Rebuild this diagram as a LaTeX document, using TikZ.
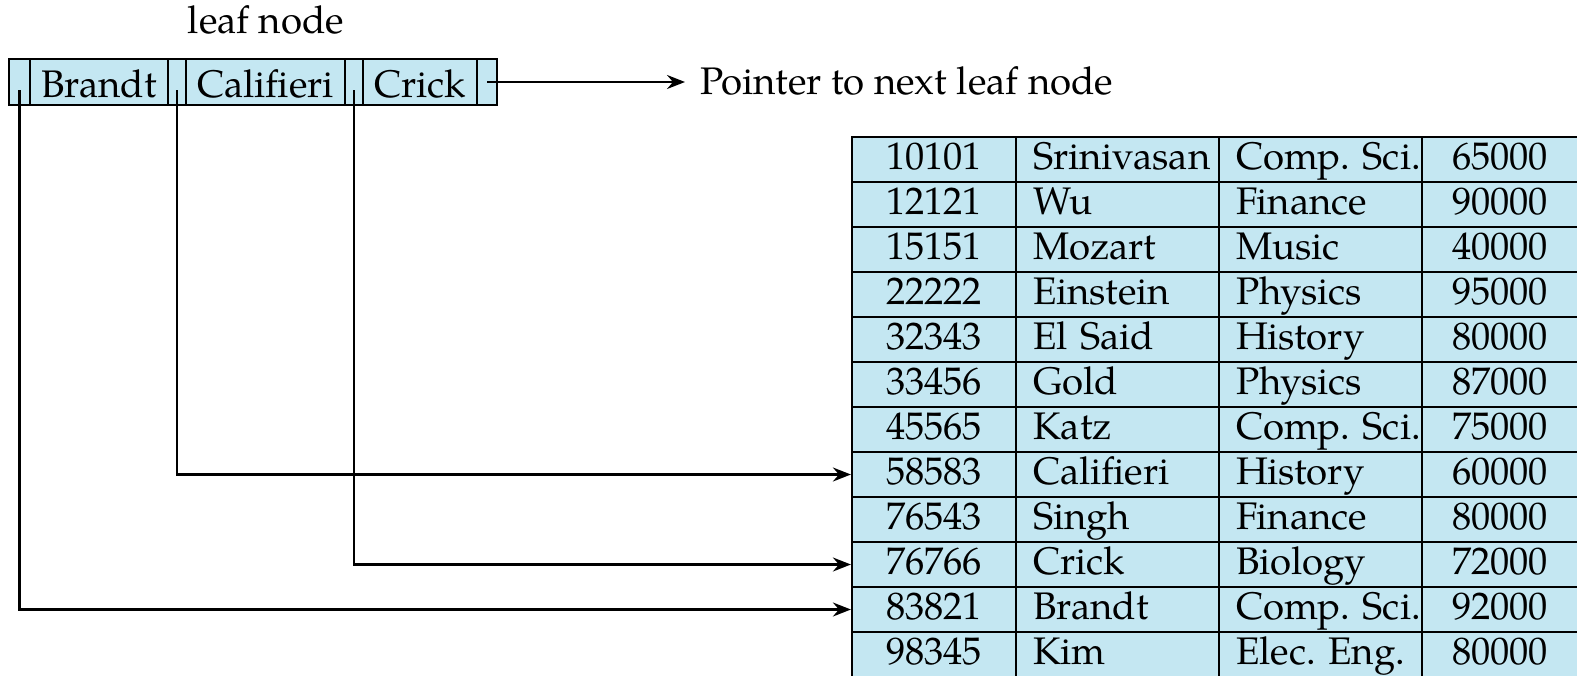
\documentclass[tikz,border=0pt]{standalone}
\usepackage{fontspec}
\setmainfont{TeX Gyre Pagella}
\usetikzlibrary{arrows.meta}
\definecolor{cellblue}{RGB}{196,231,242}
\tikzset{
  txt/.style={font=\fontsize{19.2pt}{23pt}\selectfont\frenchspacing, text depth=0pt},
  leafcell/.style={txt, text height=15pt, draw, line width=1.1pt, fill=cellblue, minimum height=23pt, inner sep=0pt},
  tcell/.style={txt, text height=9.5pt, draw, line width=1.1pt, fill=cellblue, minimum height=22.5pt, inner ysep=0pt},
  ccell/.style={tcell, inner xsep=0pt, text width=#1, align=center},
  lcell/.style={tcell, inner xsep=8.5pt, text width=#1, align=left},
  ptr/.style={line width=1.1pt, -{Stealth[length=9pt,width=7pt,inset=3pt]}},
  lbl/.style={txt, text height=12.5pt, inner sep=0pt}
}
\begin{document}
\begin{tikzpicture}[x=0.5pt,y=-0.5pt]
\useasboundingbox (0,0) rectangle (1577,675);
% leaf node
\node[lbl, anchor=base] (title) at (266,33) {leaf node};
\node[leafcell, minimum width=10.5pt] (p1) at (19.5,82) {};
\node[leafcell, minimum width=69pt]   (k1) at (99,82) {Brandt};
\node[leafcell, minimum width=9pt]    (p2) at (177,82) {};
\node[leafcell, minimum width=79.5pt] (k2) at (265.5,82) {Califieri};
\node[leafcell, minimum width=9pt]    (p3) at (354,82) {};
\node[leafcell, minimum width=57pt]   (k3) at (420,82) {Crick};
\node[leafcell, minimum width=10pt]   (p4) at (487,82) {};
\node[lbl, anchor=west, inner xsep=7.5pt] (next) at (685,82) {Pointer to next leaf node};
% table
\foreach \a/\b/\c/\d [count=\i] in {
  10101/Srinivasan/Comp. Sci./65000,
  12121/Wu/Finance/90000,
  15151/Mozart/Music/40000,
  22222/Einstein/Physics/95000,
  32343/El Said/History/80000,
  33456/Gold/Physics/87000,
  45565/Katz/Comp. Sci./75000,
  58583/Califieri/History/60000,
  76543/Singh/Finance/80000,
  76766/Crick/Biology/72000,
  83821/Brandt/Comp. Sci./92000,
  98345/Kim/Elec. Eng./80000}{
  \pgfmathsetmacro{\yy}{137+(\i-0.5)*45}
  \node[ccell=82pt]  (r\i-1) at (934,\yy) {\a};
  \node[lcell=84.5pt] (r\i-2) at (1117.5,\yy) {\mbox{\b}};
  \node[lcell=84.5pt] (r\i-3) at (1320.5,\yy) {\mbox{\c}};
  \node[ccell=78pt]  (r\i-4) at (1500,\yy) {\d};
}
% pointers
\draw[ptr] ([yshift=-4pt]p1.center) |- (r11-1.west);
\draw[ptr] ([yshift=-4pt]p2.center) |- (r8-1.west);
\draw[ptr] ([yshift=-4pt]p3.center) |- (r10-1.west);
\draw[ptr] (p4.center) -- (next.west);
\end{tikzpicture}
\end{document}
